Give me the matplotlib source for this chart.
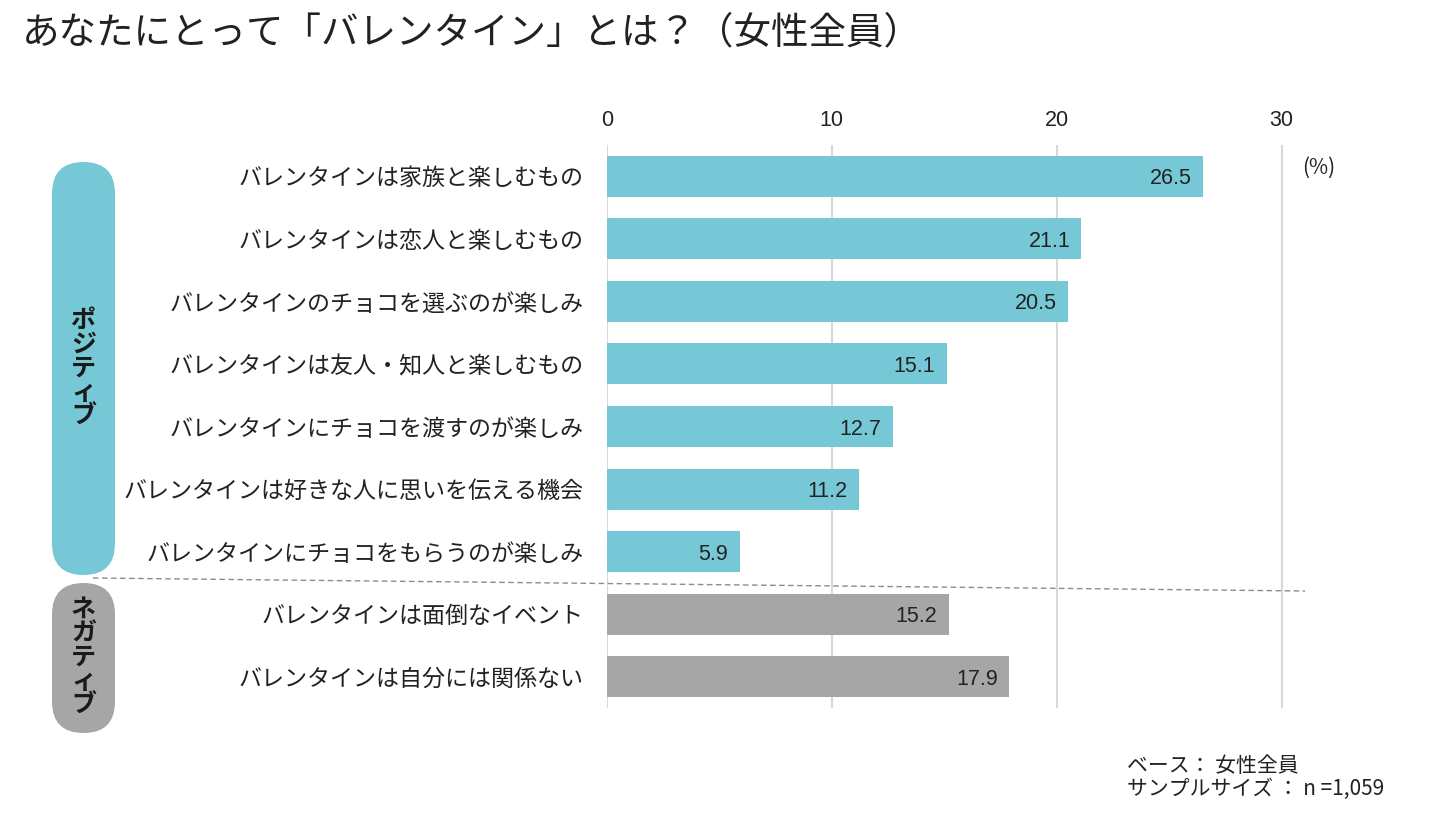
import matplotlib
matplotlib.use("Agg")
import matplotlib.pyplot as plt
from matplotlib.patches import FancyBboxPatch
from matplotlib.lines import Line2D

plt.rcParams['font.family'] = ['Noto Sans CJK JP', 'DejaVu Sans']

categories = [
    "バレンタインは家族と楽しむもの",
    "バレンタインは恋人と楽しむもの",
    "バレンタインのチョコを選ぶのが楽しみ",
    "バレンタインは友人・知人と楽しむもの",
    "バレンタインにチョコを渡すのが楽しみ",
    "バレンタインは好きな人に思いを伝える機会",
    "バレンタインにチョコをもらうのが楽しみ",
    "バレンタインは面倒なイベント",
    "バレンタインは自分には関係ない",
]
values = [26.5, 21.1, 20.5, 15.1, 12.7, 11.2, 5.9, 15.2, 17.9]
groups = ["pos"] * 7 + ["neg"] * 2
xticks = [0, 10, 20, 30]

TEAL = "#77C8D6"
GRAY = "#A6A6A6"
colors = [TEAL if g == "pos" else GRAY for g in groups]

W, H = 1430, 817
fig = plt.figure(figsize=(W / 100, H / 100), dpi=100)

ax_left, ax_right = 607, 1304
ax_top, ax_bot = 145, 708
ax = fig.add_axes([ax_left / W, 1 - ax_bot / H, (ax_right - ax_left) / W, (ax_bot - ax_top) / H])

ypos = list(range(len(values)))
ax.barh(ypos, values, height=0.655, color=colors, zorder=2)
ax.set_xlim(0, 31.0)
ax.set_ylim(len(values) - 0.5, -0.5)
ax.set_xticks(xticks)
ax.xaxis.tick_top()
ax.tick_params(axis='x', length=0, labelsize=15.5, pad=10, colors='#222222')
for t in ax.get_xticklabels():
    t.set_family(['Liberation Sans', 'DejaVu Sans'])
ax.set_yticks(ypos)
ax.set_yticklabels(categories, fontsize=16.6, color='#222222')
ax.tick_params(axis='y', length=0, pad=17)
for s in ax.spines.values():
    s.set_visible(False)
ax.grid(axis='x', color='#D9D9D9', linewidth=1.5, zorder=0)
ax.set_axisbelow(True)

for y, v in zip(ypos, values):
    ax.text(v - 0.5, y + 0.04, f"{v:.1f}", ha='right', va='center', fontsize=15.5,
            color='#222222', family=['Liberation Sans', 'DejaVu Sans'], zorder=3)

# title
fig.text(22 / W, 1 - 33 / H, "あなたにとって「バレンタイン」とは？（女性全員）",
         ha='left', va='center', fontsize=27, color='#222222')

# (%)
fig.text(1319 / W, 1 - 168 / H, "(%)", ha='center', va='center', fontsize=15, color='#222222')

# footer
fig.text(1127 / W, 1 - 766 / H, "ベース： 女性全員", ha='left', va='center', fontsize=15, color='#222222')
fig.text(1127 / W, 1 - 789 / H, "サンプルサイズ ： n =1,059", ha='left', va='center', fontsize=15, color='#222222')

# pills
def pill(x0, y0, x1, y1, color, label):
    w = (x1 - x0) / 100
    h = (y1 - y0) / 100
    p = FancyBboxPatch((x0 / 100, (H - y1) / 100), w, h,
                       boxstyle=f"round,pad=0,rounding_size={w / 2}",
                       transform=fig.dpi_scale_trans, facecolor=color, edgecolor='none')
    fig.patches.append(p)
    cx = (x0 + x1) / 2
    cy = (y0 + y1) / 2
    fig.text(cx / W, 1 - cy / H, "\n".join(label), ha='center', va='center',
             fontsize=18, fontweight='bold', color='#1a1a1a', linespacing=1.0)

pill(52, 162, 115, 575, TEAL, "ポジティブ")
pill(52, 583, 115, 733, GRAY, "ネガティブ")

# dashed separator
ln = Line2D([93 / 100, 1305 / 100], [(H - 578) / 100, (H - 591) / 100],
            transform=fig.dpi_scale_trans, color='#8c8c8c', linewidth=1.0,
            linestyle=(0, (4, 2.5)))
fig.lines.append(ln)

fig.savefig("out.png", dpi=100, facecolor='white')
